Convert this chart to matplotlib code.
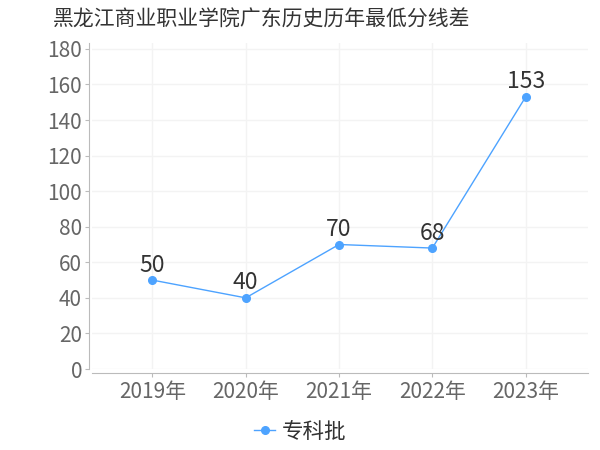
import matplotlib
matplotlib.use('Agg')
from matplotlib import pyplot as plt

years = ['2019年', '2020年', '2021年', '2022年', '2023年']
scores = [50, 40, 70, 68, 153]
series_name = '专科批'
title = '黑龙江商业职业学院广东历史历年最低分线差'

plt.rcParams['font.family'] = ['Noto Sans CJK SC', 'DejaVu Sans']

fig = plt.figure(figsize=(6, 4.5), dpi=100)
# 坐标区：左92 右588 上43 下369（像素）
ax = fig.add_axes([92 / 600, 1 - 369 / 450, 496 / 600, 326 / 450])

x = list(range(len(years)))
line_color = '#4DA3FF'
ax.plot(x, scores, color=line_color, linewidth=1, marker='o', markersize=5.5, label=series_name)

# 数据标签
for xi, v in zip(x, scores):
    ax.annotate(str(v), (xi, v), xytext=(0, 2.5), textcoords='offset points',
                ha='center', va='bottom', fontsize=16.5, color='#333333')

ax.set_xlim(-0.647, 4.668)
ax.set_ylim(0, 183.3)
ax.set_xticks(x)
ax.set_xticklabels(years)
ax.set_yticks(range(0, 181, 20))

ax.grid(True, color='#f3f3f3', linewidth=1)
ax.set_axisbelow(True)
for s in ['top', 'right']:
    ax.spines[s].set_visible(False)
ax.spines['left'].set_color('#bbbbbb')
ax.spines['bottom'].set_color('#bbbbbb')
ax.spines['left'].set_position(('outward', 2.2))
ax.spines['bottom'].set_position(('outward', 2.7))
ax.tick_params(axis='both', colors='#bbbbbb', labelcolor='#666666', labelsize=15, length=3)
ax.tick_params(axis='x', pad=3)
ax.tick_params(axis='y', pad=2)

fig.text(53 / 600, 1 - 20 / 450, title, ha='left', va='center', fontsize=15, color='#333333')

fig.legend(loc='center', bbox_to_anchor=(0.5, 1 - 432 / 450), frameon=False, fontsize=15.5,
           handlelength=1.0, handletextpad=0.3, labelcolor='#333333')

fig.savefig('out.png', dpi=100)
